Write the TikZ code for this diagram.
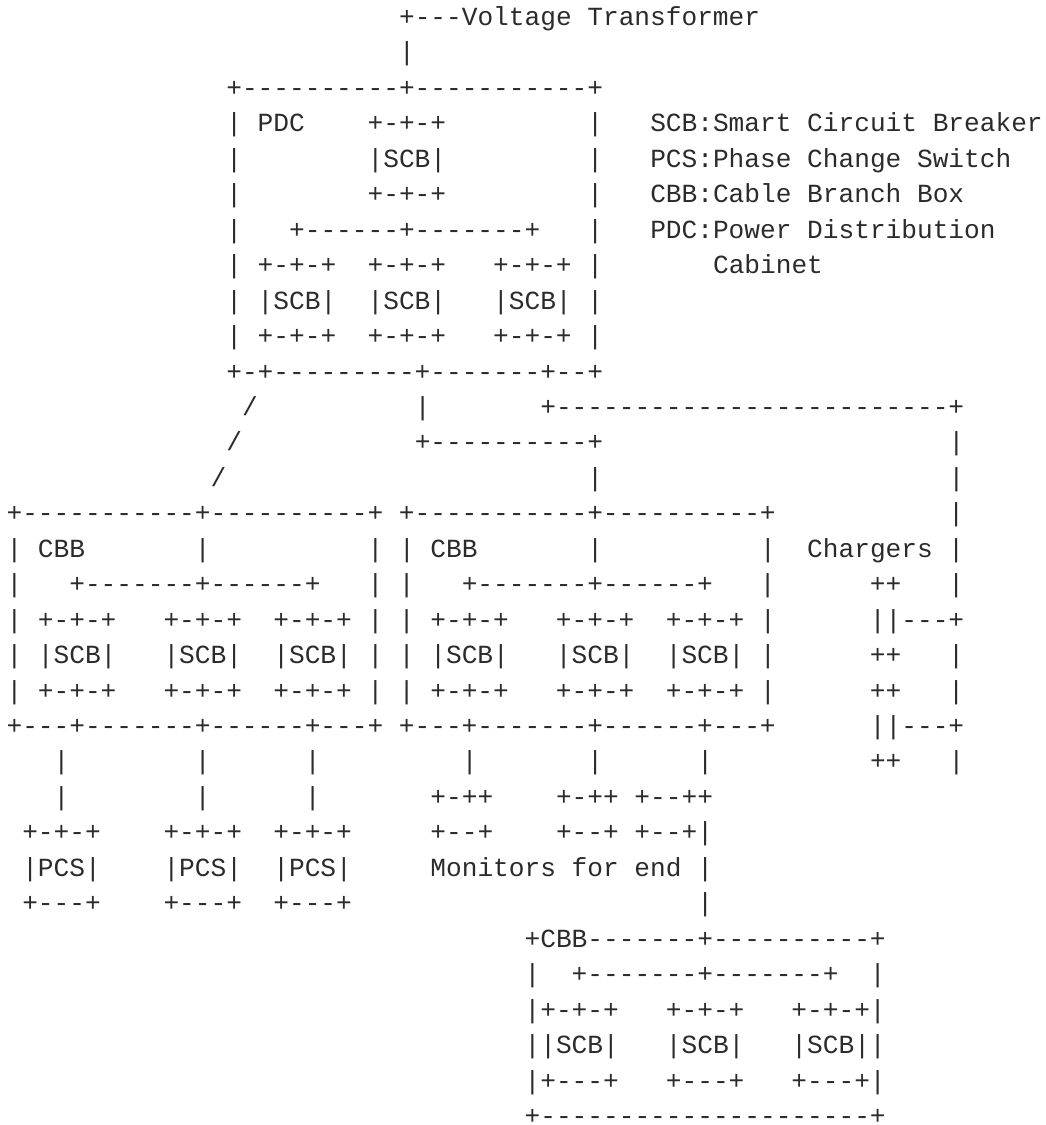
\documentclass[tikz,border=0pt]{standalone}
\usepackage{fontspec}
\setmonofont{Liberation Mono}
\definecolor{ink}{HTML}{2B2B2B}
\newlength\cw
\setlength\cw{7.85pt}
\newcommand\sk[1]{\hspace*{#1\cw}}

\begin{document}
\begin{tikzpicture}[x=7.85pt,y=-17.725pt]
        \tikzset{row/.style={font=\ttfamily\fontsize{13.08pt}{17.7pt}\selectfont,text=ink,inner sep=0pt,anchor=base west}}
        \useasboundingbox[fill=white] (-0.892,0.28) rectangle (65.67,32.015);
        % transformer and power distribution cabinet
        \node[row] (vt) at (24.5,1) {+---Voltage Transformer};
        \node[row] (vtlink) at (24.5,2) {|};
        \node[row] (pdc1) at (13.5,3) {+----------+-----------+};
        \node[row] (pdc2) at (13.5,4) {| PDC\sk4+-+-+\sk9|};
        \node[row] (pdc3) at (13.5,5) {|\sk8|SCB|\sk9|};
        \node[row] (pdc4) at (13.5,6) {|\sk8+-+-+\sk9|};
        \node[row] (pdc5) at (13.5,7) {|\sk3+------+-------+\sk3|};
        \node[row] (pdc6) at (13.5,8) {| +-+-+\sk2+-+-+\sk3+-+-+ |};
        \node[row] (pdc7) at (13.5,9) {| |SCB|\sk2|SCB|\sk3|SCB| |};
        \node[row] (pdc8) at (13.5,10) {| +-+-+\sk2+-+-+\sk3+-+-+ |};
        \node[row] (pdc9) at (13.5,11) {+-+---------+-------+--+};
        % legend
        \node[row] (keyscb) at (40.5,4) {SCB:Smart Circuit Breaker};
        \node[row] (keypcs) at (40.5,5) {PCS:Phase Change Switch};
        \node[row] (keycbb) at (40.5,6) {CBB:Cable Branch Box};
        \node[row] (keypdc) at (40.5,7) {PDC:Power Distribution};
        \node[row] (keypdcb) at (44.5,8) {Cabinet};
        % feeders
        \node[row] (feed1) at (14.5,12) {/\sk{10}|\sk7+-------------------------+};
        \node[row] (feed2) at (13.5,13) {/\sk{11}+----------+\sk{22}|};
        \node[row] (feed3) at (12.5,14) {/\sk{23}|\sk{22}|};
        % cable branch boxes and chargers
        \node[row] (cbb1) at (-0.5,15) {+-----------+----------+ +-----------+----------+\sk{11}|};
        \node[row] (cbb2) at (-0.5,16) {| CBB\sk7|\sk{10}| | CBB\sk7|\sk{10}|\sk2Chargers |};
        \node[row] (cbb3) at (-0.5,17) {|\sk3+-------+------+\sk3| |\sk3+-------+------+\sk3|\sk6++\sk3|};
        \node[row] (cbb4) at (-0.5,18) {| +-+-+\sk3+-+-+\sk2+-+-+ | | +-+-+\sk3+-+-+\sk2+-+-+ |\sk6||---+};
        \node[row] (cbb5) at (-0.5,19) {| |SCB|\sk3|SCB|\sk2|SCB| | | |SCB|\sk3|SCB|\sk2|SCB| |\sk6++\sk3|};
        \node[row] (cbb6) at (-0.5,20) {| +-+-+\sk3+-+-+\sk2+-+-+ | | +-+-+\sk3+-+-+\sk2+-+-+ |\sk6++\sk3|};
        \node[row] (cbb7) at (-0.5,21) {+---+-------+------+---+ +---+-------+------+---+\sk6||---+};
        % phase change switches and monitors
        \node[row] (down1) at (2.5,22) {|\sk8|\sk6|\sk9|\sk7|\sk6|\sk{10}++\sk3|};
        \node[row] (down2) at (2.5,23) {|\sk8|\sk6|\sk7+-++\sk4+-++ +--++};
        \node[row] (down3) at (0.5,24) {+-+-+\sk4+-+-+\sk2+-+-+\sk5+--+\sk4+--+ +--+|};
        \node[row] (down4) at (0.5,25) {|PCS|\sk4|PCS|\sk2|PCS|\sk5Monitors for end |};
        \node[row] (down5) at (0.5,26) {+---+\sk4+---+\sk2+---+\sk{22}|};
        % end cable branch box
        \node[row] (endcbb1) at (32.5,27) {+CBB-------+----------+};
        \node[row] (endcbb2) at (32.5,28) {|\sk2+-------+-------+\sk2|};
        \node[row] (endcbb3) at (32.5,29) {|+-+-+\sk3+-+-+\sk3+-+-+|};
        \node[row] (endcbb4) at (32.5,30) {||SCB|\sk3|SCB|\sk3|SCB||};
        \node[row] (endcbb5) at (32.5,31) {|+---+\sk3+---+\sk3+---+|};
        \node[row] (endcbb6) at (32.5,32) {+---------------------+};
      \end{tikzpicture}
\end{document}
